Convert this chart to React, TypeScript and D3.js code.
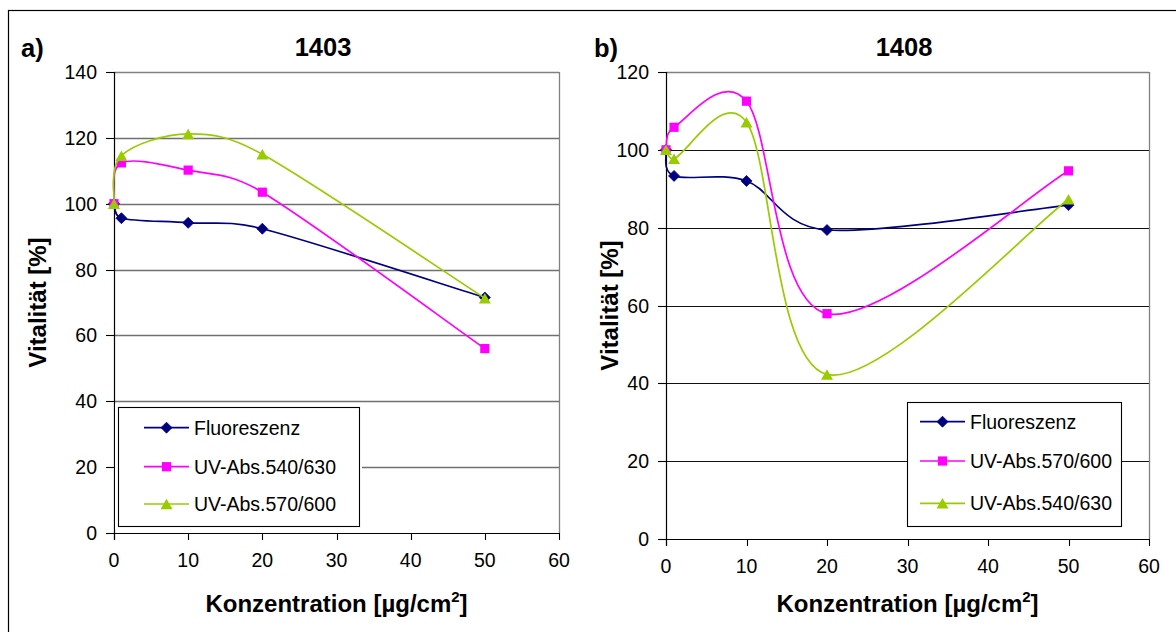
import React from "react";
import * as d3 from "d3";

// Concentration steps (µg/cm²) shared by both cell lines
const concentrations = [0, 1, 10, 20, 50];

// Cell line 1403 – vitality in %
const fluor1403 = [100, 95.6, 94.2, 92.4, 71.5];
const uv540_1403 = [100, 112.4, 110.2, 103.5, 56];
const uv570_1403 = [100, 114.6, 121.2, 115, 71.3];

// Cell line 1408 – vitality in %
const fluor1408 = [100, 93.3, 92, 79.4, 85.8];
const uv570_1408 = [100, 105.8, 112.5, 57.9, 94.6];
const uv540_1408 = [100, 97.7, 107.1, 42.3, 87.3];

const xTicks = [0, 10, 20, 30, 40, 50, 60];
const yTicks1403 = [0, 20, 40, 60, 80, 100, 120, 140];
const yTicks1408 = [0, 20, 40, 60, 80, 100, 120];

const NAVY = "#000080";
const PINK = "#FF00FF";
const GREEN = "#99CC00";
const FONT = "'Liberation Sans', Arial, Helvetica, sans-serif";

type Pt = [number, number];
type MarkerKind = "diamond" | "square" | "triangle";

// Smoothed line in the style of spreadsheet "smoothed lines":
// cubic Bezier segments with 1/6 tangent factor, capped at half the segment length.
function smoothPath(pts: Pt[]): string {
  const p = d3.path();
  if (!pts.length) return "";
  p.moveTo(pts[0][0], pts[0][1]);
  const dist = (a: Pt, b: Pt) => Math.hypot(b[0] - a[0], b[1] - a[1]);
  for (let i = 0; i < pts.length - 1; i++) {
    const p0 = pts[i - 1] ?? pts[i];
    const p1 = pts[i];
    const p2 = pts[i + 1];
    const p3 = pts[i + 2] ?? pts[i + 1];
    const d12 = dist(p1, p2);
    const d02 = dist(p0, p2);
    const d13 = dist(p1, p3);
    let f1 = 1 / 6;
    let f2 = 1 / 6;
    if (d02 > 0 && d02 / 6 > d12 / 2) f1 = d12 / (2 * d02);
    if (d13 > 0 && d13 / 6 > d12 / 2) f2 = d12 / (2 * d13);
    const c1: Pt = [p1[0] + (p2[0] - p0[0]) * f1, p1[1] + (p2[1] - p0[1]) * f1];
    const c2: Pt = [p2[0] - (p3[0] - p1[0]) * f2, p2[1] - (p3[1] - p1[1]) * f2];
    p.bezierCurveTo(c1[0], c1[1], c2[0], c2[1], p2[0], p2[1]);
  }
  return p.toString();
}

function Marker({ kind, x, y, color }: { kind: MarkerKind; x: number; y: number; color: string }) {
  if (kind === "diamond") {
    const r = 5.5;
    return (
      <path
        d={`M${x},${y - r}L${x + r},${y}L${x},${y + r}L${x - r},${y}Z`}
        fill={color}
        stroke={color}
        strokeWidth={0.8}
      />
    );
  }
  if (kind === "square") {
    const s = 9.2;
    return <rect x={x - s / 2} y={y - s / 2} width={s} height={s} fill={color} />;
  }
  const w = 12;
  const h = 10.5;
  return (
    <path
      d={`M${x},${y - h / 2}L${x + w / 2},${y + h / 2}L${x - w / 2},${y + h / 2}Z`}
      fill={color}
    />
  );
}

interface Series {
  name: string;
  values: number[];
  color: string;
  marker: MarkerKind;
}

interface PanelProps {
  letter: string;
  letterX: number;
  title: string;
  titleX: number;
  left: number;
  right: number;
  top: number;
  bottom: number;
  yMax: number;
  yTicks: number[];
  yTitleX: number;
  gridColor: string;
  gridWidth: number;
  series: Series[];
  legend: { x: number; y: number; w: number; h: number; rows: number[]; lineX0: number; lineX1: number; textX: number; pad: number };
}

function Panel(props: PanelProps) {
  const { left, right, top, bottom, yMax, yTicks, series, legend } = props;
  const x = d3.scaleLinear().domain([0, 60]).range([left, right]);
  const y = d3.scaleLinear().domain([0, yMax]).range([bottom, top]);
  const crisp = (v: number) => Math.round(v) + 0.5;
  const yMid = (top + bottom) / 2;
  const xMid = (left + right) / 2;

  return (
    <g>
      <text x={props.letterX} y={57} fontFamily={FONT} fontWeight="bold" fontSize={25.5} fill="#000">
        {props.letter}
      </text>
      <text x={props.titleX} y={56} textAnchor="middle" fontFamily={FONT} fontWeight="bold" fontSize={25.5} fill="#000">
        {props.title}
      </text>

      {/* gridlines */}
      {yTicks
        .filter((t) => t > 0)
        .map((t) => (
          <line
            key={`g${t}`}
            x1={left}
            x2={right}
            y1={crisp(y(t))}
            y2={crisp(y(t))}
            stroke={t === yMax ? "#808080" : props.gridColor}
            strokeWidth={t === yMax ? 1.3 : props.gridWidth}
          />
        ))}
      {/* right border of the plot area */}
      <line x1={crisp(right)} x2={crisp(right)} y1={top} y2={bottom} stroke="#808080" strokeWidth={1.3} />

      {/* axes */}
      <line x1={crisp(left)} x2={crisp(left)} y1={top} y2={bottom + 7} stroke="#000" strokeWidth={1.2} />
      <line x1={left - 8} x2={right + 1} y1={crisp(bottom)} y2={crisp(bottom)} stroke="#000" strokeWidth={1.2} />
      {yTicks.map((t) => (
        <g key={`y${t}`}>
          <line x1={left - 8} x2={left} y1={crisp(y(t))} y2={crisp(y(t))} stroke="#000" strokeWidth={1.1} />
          <text
            x={left - 17}
            y={y(t)}
            dy="0.36em"
            textAnchor="end"
            fontFamily={FONT}
            fontSize={19.5}
            fill="#000"
          >
            {t}
          </text>
        </g>
      ))}
      {xTicks.map((t) => (
        <g key={`x${t}`}>
          <line x1={crisp(x(t))} x2={crisp(x(t))} y1={bottom} y2={bottom + 7} stroke="#000" strokeWidth={1.1} />
          <text x={x(t)} y={bottom + 34} textAnchor="middle" fontFamily={FONT} fontSize={19.5} fill="#000">
            {t}
          </text>
        </g>
      ))}

      {/* axis titles */}
      <text x={xMid} y={612} textAnchor="middle" fontFamily={FONT} fontWeight="bold" fontSize={24} fill="#000">
        Konzentration [µg/cm
        <tspan fontSize={15} dy={-10}>
          2
        </tspan>
        <tspan dy={10}>]</tspan>
      </text>
      <text
        transform={`translate(${props.yTitleX},${yMid}) rotate(-90)`}
        textAnchor="middle"
        fontFamily={FONT}
        fontWeight="bold"
        fontSize={24}
        fill="#000"
      >
        Vitalität [%]
      </text>

      {/* series */}
      {series.map((s) => {
        const pts: Pt[] = concentrations.map((c, i) => [x(c), y(s.values[i])]);
        return (
          <g key={s.name}>
            <path d={smoothPath(pts)} fill="none" stroke={s.color} strokeWidth={1.7} />
            {pts.map((p, i) => (
              <Marker key={i} kind={s.marker} x={p[0]} y={p[1]} color={s.color} />
            ))}
          </g>
        );
      })}

      {/* legend */}
      <rect
        x={legend.x - legend.pad}
        y={legend.y - legend.pad}
        width={legend.w + 2 * legend.pad}
        height={legend.h + 2 * legend.pad}
        fill="#fff"
      />
      <rect x={legend.x + 0.5} y={legend.y + 0.5} width={legend.w} height={legend.h} fill="#fff" stroke="#000" strokeWidth={1.1} />
      {series.map((s, i) => {
        const ry = legend.rows[i];
        return (
          <g key={`l${s.name}`}>
            <line x1={legend.lineX0} x2={legend.lineX1} y1={ry} y2={ry} stroke={s.color} strokeWidth={1.7} />
            <Marker kind={s.marker} x={(legend.lineX0 + legend.lineX1) / 2} y={ry} color={s.color} />
            <text x={legend.textX} y={ry} dy="0.36em" fontFamily={FONT} fontSize={19.5} fill="#000">
              {s.name}
            </text>
          </g>
        );
      })}
    </g>
  );
}

export default function App() {
  return (
    <svg
      width={1176}
      height={632}
      viewBox="0 0 1176 632"
      style={{ position: "absolute", left: 0, top: 0, background: "#fff" }}
    >
      <rect x={0} y={0} width={1176} height={632} fill="#fff" />
      <rect x={8.5} y={10.5} width={1180} height={640} fill="none" stroke="#000" strokeWidth={1.2} />

      <Panel
        letter="a)"
        letterX={21}
        title="1403"
        titleX={323}
        left={114}
        right={559}
        top={72}
        bottom={533}
        yMax={140}
        yTicks={yTicks1403}
        yTitleX={46}
        gridColor="#707070"
        gridWidth={1.4}
        series={[
          { name: "Fluoreszenz", values: fluor1403, color: NAVY, marker: "diamond" },
          { name: "UV-Abs.540/630", values: uv540_1403, color: PINK, marker: "square" },
          { name: "UV-Abs.570/600", values: uv570_1403, color: GREEN, marker: "triangle" },
        ]}
        legend={{ x: 118, y: 407, w: 241, h: 119, rows: [427.7, 466.7, 504], lineX0: 144, lineX1: 189, textX: 194, pad: 3 }}
      />

      <Panel
        letter="b)"
        letterX={594}
        title="1408"
        titleX={904}
        left={666}
        right={1149}
        top={72}
        bottom={539}
        yMax={120}
        yTicks={yTicks1408}
        yTitleX={618}
        gridColor="#111"
        gridWidth={1.1}
        series={[
          { name: "Fluoreszenz", values: fluor1408, color: NAVY, marker: "diamond" },
          { name: "UV-Abs.570/600", values: uv570_1408, color: PINK, marker: "square" },
          { name: "UV-Abs.540/630", values: uv540_1408, color: GREEN, marker: "triangle" },
        ]}
        legend={{ x: 907, y: 402, w: 214, h: 124, rows: [421.7, 461, 503.3], lineX0: 920, lineX1: 965, textX: 970, pad: 0 }}
      />
    </svg>
  );
}
